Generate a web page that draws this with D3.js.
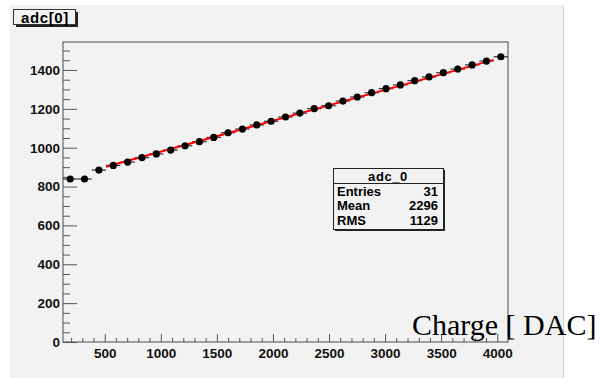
<!DOCTYPE html>
<html>
<head>
<meta charset="utf-8">
<script src="https://cdn.jsdelivr.net/npm/d3@7"></script>
<style>
  body { margin: 0; background: #fff; }
  svg { display: block; }
</style>
</head>
<body>
<div id="chart"></div>
<script>
// bin centres (DAC) and adc values
var charge = [192, 320, 448, 576, 704, 832, 960, 1088, 1216, 1344, 1472, 1600, 1728, 1856, 1984, 2112,
              2240, 2368, 2496, 2624, 2752, 2880, 3008, 3136, 3264, 3392, 3520, 3648, 3776, 3904, 4032];
var adc = [839, 839, 885, 909, 926, 949, 968, 988, 1010, 1031, 1053, 1077, 1096, 1117, 1136, 1158,
           1178, 1201, 1216, 1240, 1261, 1283, 1304, 1323, 1345, 1364, 1386, 1405, 1426, 1446, 1468];
var binHalf = 64;
var fitX = [512, 3968], fitY = [902, 1452];
var xTicks = [500, 1000, 1500, 2000, 2500, 3000, 3500, 4000];
var yTicks = [0, 200, 400, 600, 800, 1000, 1200, 1400];
var statNames = ["Entries", "Mean", "RMS"], statValues = ["31", "2296", "1129"];

var width = 602, height = 378;
var margin = {top: 42, right: 94, bottom: 36, left: 63};
var sans = "Liberation Sans, Arial, sans-serif";

var svg = d3.select("#chart").append("svg")
    .attr("width", width)
    .attr("height", height)
    .style("font-family", sans);

// canvas pad
svg.append("rect").attr("x", 10).attr("y", 5).attr("width", 553).attr("height", 373).attr("fill", "#f2f2f2");
svg.append("line").attr("x1", 563.5).attr("x2", 563.5).attr("y1", 5).attr("y2", 378).attr("stroke", "#d8d8d8");

var w = width - margin.left - margin.right, h = height - margin.top - margin.bottom;
var x = d3.scaleLinear().domain([128, 4096]).range([0, w]);
var y = d3.scaleLinear().domain([0, 1544]).range([h, 0]);

var g = svg.append("g").attr("transform", "translate(" + margin.left + "," + margin.top + ")");

g.append("rect").attr("width", w).attr("height", h).attr("fill", "none").attr("stroke", "#666").attr("stroke-width", 1.2);

// x axis: majors every 500, minors every 100
g.append("g")
  .attr("transform", "translate(0," + h + ")")
  .call(d3.axisBottom(x).tickValues(d3.range(200, 4096, 100)).tickSize(0).tickFormat(""))
  .call(a => a.select(".domain").remove())
  .call(a => a.selectAll(".tick line").attr("y2", d => d % 500 === 0 ? -8 : -4).attr("stroke", "#555"));
g.append("g")
  .attr("transform", "translate(0," + h + ")")
  .call(d3.axisBottom(x).tickValues(xTicks).tickSize(0).tickPadding(6).tickFormat(d3.format("d")))
  .call(a => a.select(".domain").remove())
  .call(a => a.selectAll("text").style("font-size", "13.5px").style("font-weight", "bold").attr("fill", "#111")
       .style("font-family", sans));

// y axis: majors every 200, minors every 50
g.append("g")
  .call(d3.axisLeft(y).tickValues(d3.range(0, 1544, 50)).tickSize(0).tickFormat(""))
  .call(a => a.select(".domain").remove())
  .call(a => a.selectAll(".tick line").attr("x2", d => d % 200 === 0 ? 14 : 7).attr("stroke", "#555"));
g.append("g")
  .call(d3.axisLeft(y).tickValues(yTicks).tickSize(0).tickPadding(3).tickFormat(d3.format("d")))
  .call(a => a.select(".domain").remove())
  .call(a => a.selectAll("text").style("font-size", "13.5px").style("font-weight", "bold").attr("fill", "#111")
       .style("font-family", sans));

var data = charge.map((c, i) => ({x: c, y: adc[i]}));

// horizontal error bars
g.selectAll(".err").data(data).enter().append("line")
  .attr("class", "err")
  .attr("x1", d => x(d.x - binHalf)).attr("x2", d => x(d.x + binHalf))
  .attr("y1", d => y(d.y)).attr("y2", d => y(d.y))
  .attr("stroke", "#333").attr("stroke-width", 1.2);

// fit line
g.append("line")
  .attr("x1", x(fitX[0])).attr("y1", y(fitY[0]))
  .attr("x2", x(fitX[1])).attr("y2", y(fitY[1]))
  .attr("stroke", "#ff0000").attr("stroke-width", 2);

g.selectAll(".pt").data(data).enter().append("circle")
  .attr("class", "pt")
  .attr("cx", d => x(d.x)).attr("cy", d => y(d.y))
  .attr("r", 3.6).attr("fill", "#000");

// title box
svg.append("rect").attr("x", 16).attr("y", 12).attr("width", 62).attr("height", 15).attr("fill", "#222");
svg.append("rect").attr("x", 13.5).attr("y", 9.5).attr("width", 62).attr("height", 15)
  .attr("fill", "#f2f2f2").attr("stroke", "#333");
svg.append("text").attr("x", 45).attr("y", 22.5).attr("text-anchor", "middle")
  .style("font-size", "15px").style("font-weight", "bold").style("letter-spacing", "0.6px").text("adc[0]");

// stats box
var sx = 333, sy = 168, sw = 110, sh = 61;
svg.append("rect").attr("x", sx + 2).attr("y", sy + 2).attr("width", sw).attr("height", sh).attr("fill", "#222");
svg.append("rect").attr("x", sx + 0.5).attr("y", sy + 0.5).attr("width", sw).attr("height", sh)
  .attr("fill", "#f2f2f2").attr("stroke", "#222");
svg.append("line").attr("x1", sx).attr("x2", sx + sw).attr("y1", sy + 15.5).attr("y2", sy + 15.5).attr("stroke", "#222");
svg.append("text").attr("x", sx + sw / 2).attr("y", sy + 12.5).attr("text-anchor", "middle")
  .style("font-size", "13px").style("font-weight", "bold").style("letter-spacing", "0.6px").text("adc_0");
statNames.forEach(function(n, i) {
  var by = sy + 27.5 + i * 14.5;
  svg.append("text").attr("x", sx + 4).attr("y", by).style("font-size", "13px").style("font-weight", "bold").text(n);
  svg.append("text").attr("x", sx + sw - 5).attr("y", by).attr("text-anchor", "end")
    .style("font-size", "13px").style("font-weight", "bold").text(statValues[i]);
});

// axis title
svg.append("text").attr("x", 412).attr("y", 335)
  .style("font-family", "Liberation Serif, Times New Roman, serif")
  .style("font-size", "30px").attr("fill", "#000").text("Charge [ DAC]");
</script>
</body>
</html>
